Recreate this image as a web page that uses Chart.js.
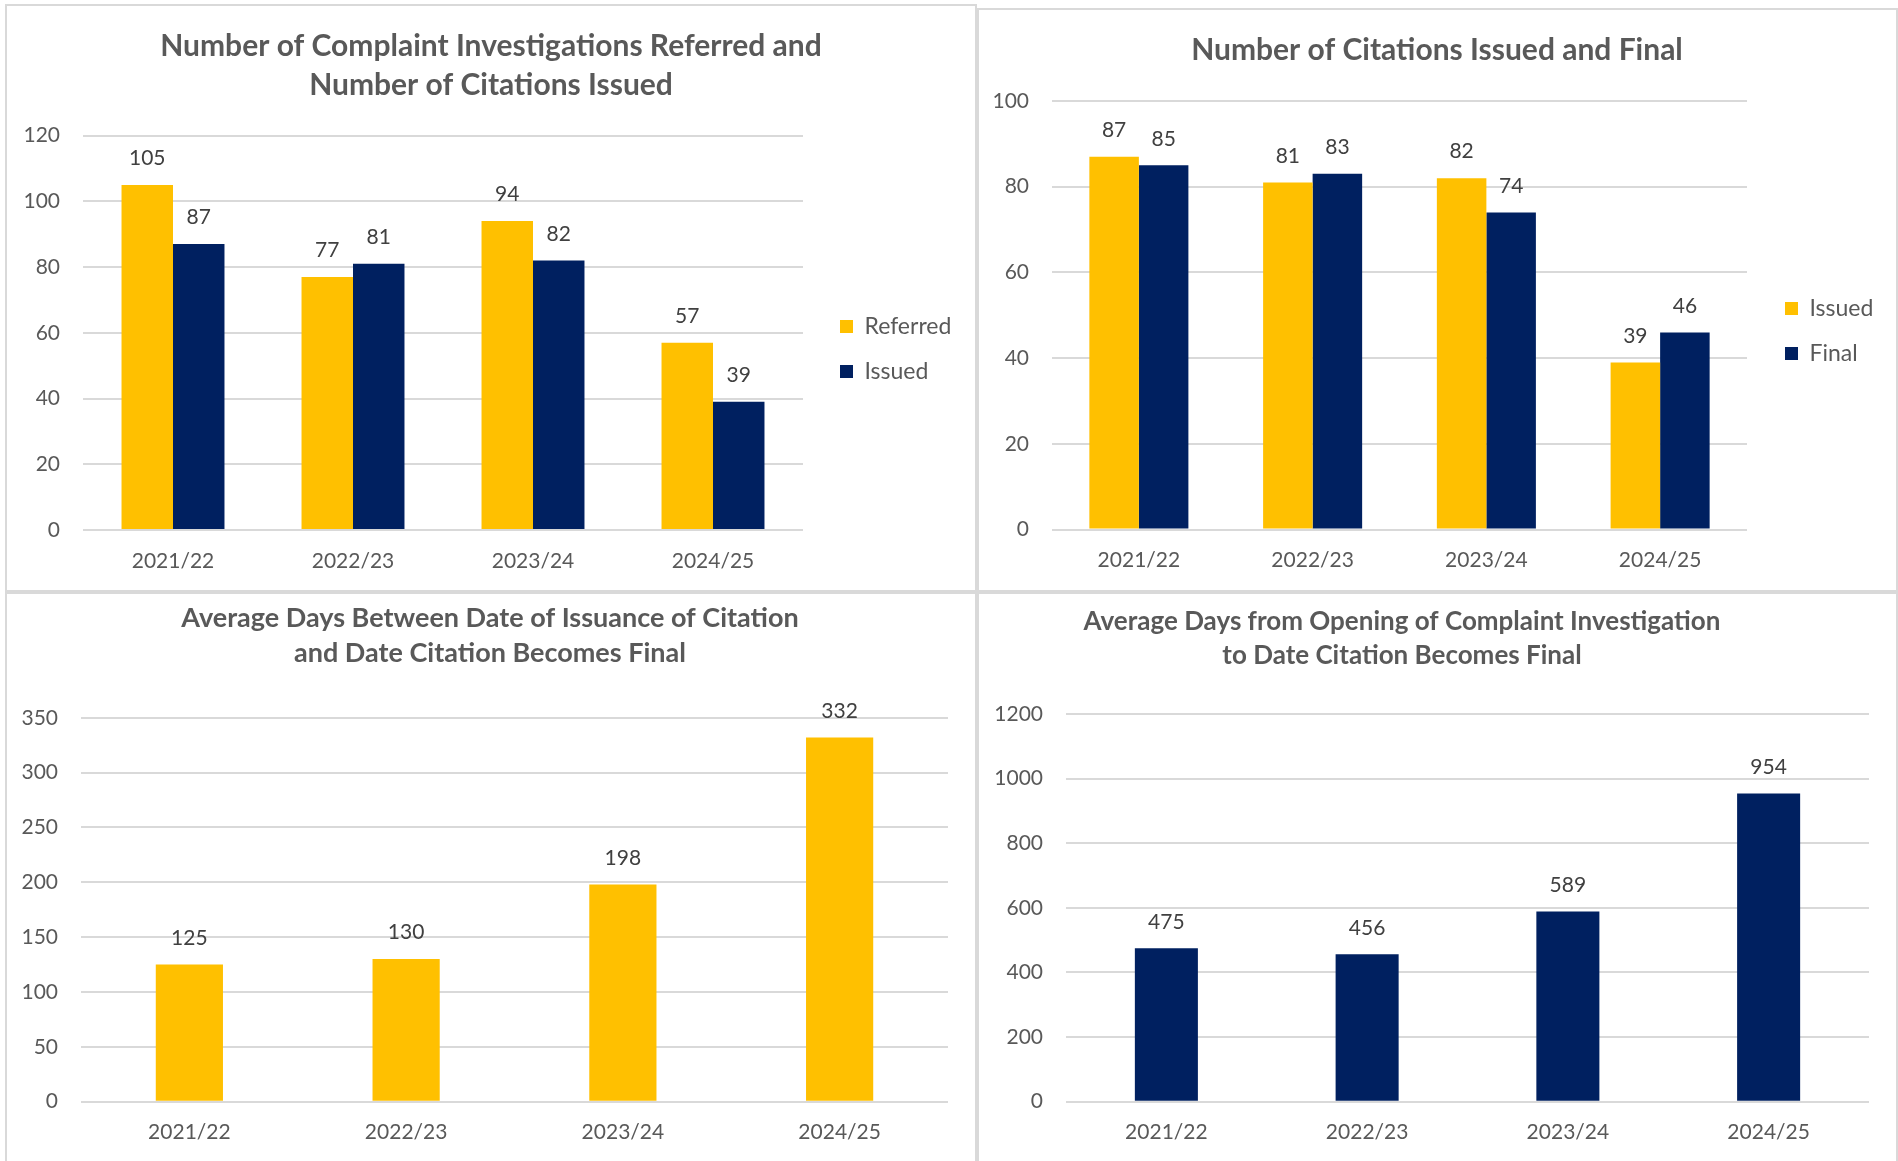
<!DOCTYPE html>
<html>
<head>
<meta charset="utf-8">
<title>Complaint investigations and citations</title>
<script src="https://cdn.jsdelivr.net/npm/chart.js@4.4.1/dist/chart.umd.min.js"></script>
<style>
  html, body { margin: 0; padding: 0; background: #fff; }
  body { width: 1898px; height: 1161px; overflow: hidden; position: relative; }
  .panel { position: absolute; box-sizing: border-box; border: 2px solid #d9d9d9; }
  canvas { position: absolute; }
</style>
</head>
<body>
<div class="panel" style="left:5px;top:4px;width:972px;height:588px"></div>
<div class="panel" style="left:977px;top:8px;width:921px;height:584px"></div>
<div class="panel" style="left:5px;top:592px;width:972px;height:620px"></div>
<div class="panel" style="left:977px;top:592px;width:921px;height:620px"></div>
<canvas id="chart1" width="972" height="588" style="left:5px;top:4px"></canvas>
<canvas id="chart2" width="921" height="584" style="left:977px;top:8px"></canvas>
<canvas id="chart3" width="972" height="569" style="left:5px;top:592px"></canvas>
<canvas id="chart4" width="921" height="569" style="left:977px;top:592px"></canvas>
<script>
// fiscal years
const years = ['2021/22', '2022/23', '2023/24', '2024/25'];

// top left
const referred = [105, 77, 94, 57];
const issued = [87, 81, 82, 39];
// top right
const citIssued = [87, 81, 82, 39];
const citFinal = [85, 83, 74, 46];
// bottom row (average days)
const daysIssueToFinal = [125, 130, 198, 332];
const daysOpenToFinal = [475, 456, 589, 954];

const GOLD = '#FFC000';
const NAVY = '#002060';
const GREY = '#595959';
const FONT = 'Lato';

// moves the title / legend boxes after chart.js has done its layout
const placeBoxes = {
  id: 'placeBoxes',
  afterLayout(chart, args, opts) {
    const t = chart.titleBlock;
    if (t && opts.titleX != null) {
      t.left = opts.titleX - chart.width / 2;
      t.right = opts.titleX + chart.width / 2;
      t.width = chart.width;
    }
    const lg = chart.legend;
    if (lg && opts.legend) {
      lg.left = opts.legend.left;
      lg.top = opts.legend.top;
      lg.right = lg.left + lg.width;
      lg.bottom = lg.top + lg.height;
    }
  }
};

// numbers above the bars
const valueLabels = {
  id: 'valueLabels',
  afterDatasetsDraw(chart) {
    const ctx = chart.ctx;
    ctx.save();
    ctx.font = '21px ' + FONT;
    ctx.fillStyle = '#404040';
    ctx.textAlign = 'center';
    ctx.textBaseline = 'middle';
    chart.data.datasets.forEach((ds, i) => {
      chart.getDatasetMeta(i).data.forEach((bar, j) => {
        ctx.fillText(String(ds.data[j]), bar.x, bar.y - 26.5);
      });
    });
    ctx.restore();
  }
};

function makeChart(id, cfg) {
  const datasets = cfg.series.map(s => ({
    label: s.label,
    data: s.data,
    backgroundColor: s.color,
    borderWidth: 0,
    categoryPercentage: cfg.catPct,
    barPercentage: 1
  }));
  return new Chart(document.getElementById(id), {
    type: 'bar',
    data: { labels: years, datasets },
    options: {
      responsive: false,
      animation: false,
      layout: { padding: { left: 0, top: 0, right: cfg.padRight, bottom: cfg.padBottom } },
      plugins: {
        title: {
          display: true,
          text: cfg.title,
          color: GREY,
          font: { family: FONT, size: cfg.titleSize, weight: 'bold', lineHeight: cfg.titleLine + 'px' },
          padding: cfg.titlePad
        },
        legend: cfg.legend ? {
          display: true,
          position: 'chartArea',
          align: 'start',
          labels: {
            boxWidth: 13,
            boxHeight: 13,
            padding: 22,
            color: GREY,
            font: { family: FONT, size: 23 }
          }
        } : { display: false },
        tooltip: { enabled: false },
        placeBoxes: { titleX: cfg.titleX, legend: cfg.legend }
      },
      scales: {
        x: {
          afterFit: (scale) => { scale.height = 44; },
          grid: { display: false, drawTicks: false },
          border: { display: false },
          ticks: { color: GREY, padding: 18.4, font: { family: FONT, size: 21, lineHeight: 1.2 } }
        },
        y: {
          min: 0,
          max: cfg.yMax,
          afterFit: (scale) => { scale.width = cfg.yWidth; },
          grid: { color: '#d9d9d9', lineWidth: 2, drawTicks: false },
          border: { display: false },
          ticks: {
            stepSize: cfg.yStep,
            color: GREY,
            padding: 23,
            font: { family: FONT, size: 21, lineHeight: 1.2 },
            callback: (v) => String(v)
          }
        }
      }
    },
    plugins: [placeBoxes, valueLabels]
  });
}

makeChart('chart1', {
  title: ['Number of Complaint Investigations Referred and', 'Number of Citations Issued'],
  titleSize: 30, titleLine: 39,
  series: [
    { label: 'Referred', data: referred, color: GOLD },
    { label: 'Issued', data: issued, color: NAVY }
  ],
  catPct: 0.572, yMax: 120, yStep: 20, yWidth: 78,
  padRight: 174, padBottom: 18,
  titlePad: { top: 23, bottom: 30.6 }, titleX: 486,
  legend: { left: 813, top: 289 }
});

makeChart('chart2', {
  title: 'Number of Citations Issued and Final',
  titleSize: 30, titleLine: 39,
  series: [
    { label: 'Issued', data: citIssued, color: GOLD },
    { label: 'Final', data: citFinal, color: NAVY }
  ],
  catPct: 0.57, yMax: 100, yStep: 20, yWidth: 75,
  padRight: 151, padBottom: 18.5,
  titlePad: { top: 22.5, bottom: 31.5 }, titleX: 460,
  legend: { left: 786, top: 267 }
});

makeChart('chart3', {
  title: ['Average Days Between Date of Issuance of Citation', 'and Date Citation Becomes Final'],
  titleSize: 27, titleLine: 35,
  series: [{ label: 'Average days', data: daysIssueToFinal, color: GOLD }],
  catPct: 0.31, yMax: 350, yStep: 50, yWidth: 76,
  padRight: 29, padBottom: 15.3,
  titlePad: { top: 9, bottom: 46.8 }, titleX: 485,
  legend: null
});

makeChart('chart4', {
  title: ['Average Days from Opening of Complaint Investigation', 'to Date Citation Becomes Final'],
  titleSize: 26, titleLine: 34,
  series: [{ label: 'Average days', data: daysOpenToFinal, color: NAVY }],
  catPct: 0.314, yMax: 1200, yStep: 200, yWidth: 89,
  padRight: 29, padBottom: 15.3,
  titlePad: { top: 12.5, bottom: 41.5 }, titleX: 425,
  legend: null
});
</script>
</body>
</html>
